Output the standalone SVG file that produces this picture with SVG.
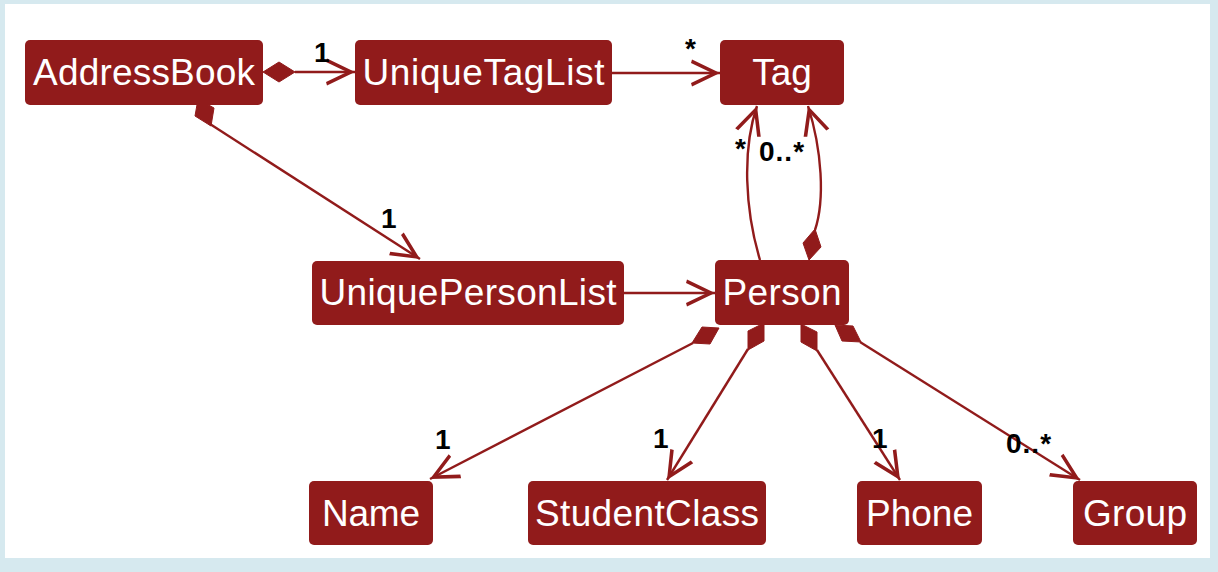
<svg xmlns="http://www.w3.org/2000/svg" width="1218" height="572" viewBox="0 0 1218 572">
<style>
.node rect{fill:#911b1b;}
.node text{fill:#ffffff;font-family:"Liberation Sans",Arial,sans-serif;font-size:37px;text-anchor:middle;}
.conn path{fill:none;stroke:#911b1b;stroke-width:2.4;}
.conn path.arr{marker-end:url(#arrow);}
.dia{fill:#911b1b;stroke:#911b1b;stroke-width:1;stroke-linejoin:round;}
.lbl{fill:#000000;font-family:"Liberation Sans",Arial,sans-serif;font-size:28px;font-weight:bold;}
</style>
<defs>
<marker id="arrow" markerUnits="userSpaceOnUse" viewBox="-32 -16 36 32" refX="0" refY="0" markerWidth="36" markerHeight="32" orient="auto" overflow="visible">
<polygon points="0,0 -28,-13.5 -29,-10 -8,0 -29,10 -28,13.5" fill="#911b1b"/>
</marker>
</defs>
<rect x="0" y="0" width="1218" height="572" fill="#d6e9ef"/>
<rect x="5" y="4" width="1205" height="554" fill="#ffffff"/>
<g id="connectors" class="conn">
<polygon class="dia" points="263,72 279,62 295,72 279,82"/>
<path class="arr" d="M295,72 L355,72"/>
<path class="arr" d="M612,73 L720,73"/>
<polygon class="dia" points="198,99 195,116 211,126 214,108"/>
<path class="arr" d="M210,124 L420,259"/>
<path class="arr" d="M624,293 L715,293"/>
<path class="arr" d="M760,260 C745,210 742,150 757,106"/>
<polygon class="dia" points="809,260 821,247 815,229 803,243"/>
<path class="arr" d="M815,230 C825,200 822,150 808,106"/>
<polygon class="dia" points="719,328 710,344 692,343 702,327"/>
<path class="arr" d="M693,343 L430,479"/>
<polygon class="dia" points="764,323 764,341 748,350 748,331"/>
<path class="arr" d="M748,349 L667,480"/>
<polygon class="dia" points="801,324 801,342 817,351 817,332"/>
<path class="arr" d="M817,350 L900,480"/>
<polygon class="dia" points="835,325 842,341 861,342 853,326"/>
<path class="arr" d="M860,342 L1080,480"/>
<text class="lbl" x="314" y="62">1</text>
<text class="lbl" x="685" y="58">*</text>
<text class="lbl" x="381" y="228">1</text>
<text class="lbl" x="735" y="158">*</text>
<text class="lbl" x="759" y="161" letter-spacing="1">0..*</text>
<text class="lbl" x="435" y="449">1</text>
<text class="lbl" x="653" y="448">1</text>
<text class="lbl" x="872" y="448">1</text>
<text class="lbl" x="1006" y="453" letter-spacing="1">0..*</text>
</g>
<g id="AddressBook" class="node"><rect x="25" y="40" width="238" height="65" rx="5"/><text x="144" y="85" textLength="222" lengthAdjust="spacing">AddressBook</text></g>
<g id="UniqueTagList" class="node"><rect x="355" y="40" width="257" height="65" rx="5"/><text x="483.5" y="85" textLength="242" lengthAdjust="spacing">UniqueTagList</text></g>
<g id="Tag" class="node"><rect x="720" y="40" width="124" height="65" rx="5"/><text x="782" y="85">Tag</text></g>
<g id="UniquePersonList" class="node"><rect x="312" y="261" width="312" height="64" rx="5"/><text x="468" y="305" textLength="297" lengthAdjust="spacing">UniquePersonList</text></g>
<g id="Person" class="node"><rect x="715" y="260" width="134" height="65" rx="5"/><text x="782" y="305" textLength="119" lengthAdjust="spacing">Person</text></g>
<g id="Name" class="node"><rect x="309" y="481" width="124" height="64" rx="5"/><text x="371" y="526" textLength="98" lengthAdjust="spacing">Name</text></g>
<g id="StudentClass" class="node"><rect x="528" y="481" width="238" height="64" rx="5"/><text x="647" y="526" textLength="224" lengthAdjust="spacing">StudentClass</text></g>
<g id="Phone" class="node"><rect x="857" y="481" width="125" height="64" rx="5"/><text x="919.5" y="526" textLength="107" lengthAdjust="spacing">Phone</text></g>
<g id="Group" class="node"><rect x="1073" y="481" width="124" height="64" rx="5"/><text x="1135" y="526" textLength="104" lengthAdjust="spacing">Group</text></g>
</svg>
